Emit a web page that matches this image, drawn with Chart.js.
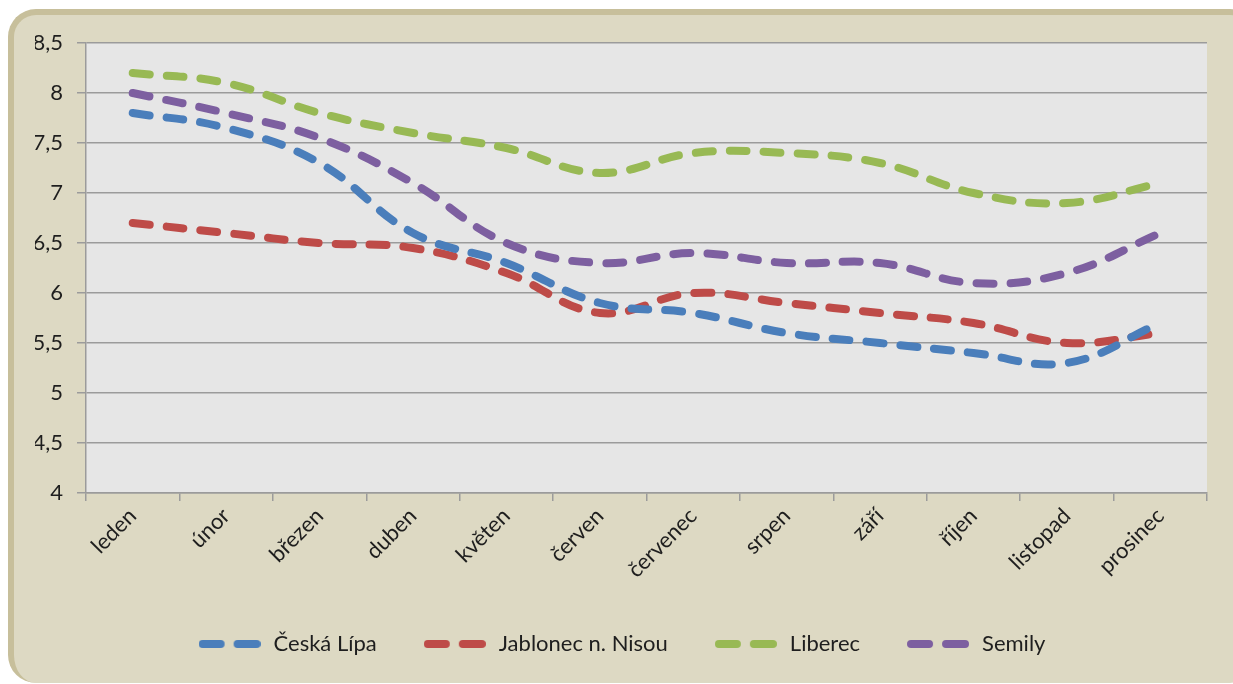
<!DOCTYPE html>
<html>
<head>
<meta charset="utf-8">
<script src="https://cdn.jsdelivr.net/npm/chart.js@4"></script>
<style>
  html, body { margin: 0; padding: 0; background: #ffffff; overflow: hidden; }
  #frame {
    position: absolute; left: 8px; top: 9px; width: 1250px; height: 674px;
    background: #ddd9c3; border-left: 6px solid #c7bf9b; border-top: 6px solid #c7bf9b;
    border-radius: 28px; box-sizing: border-box;
  }
  #wrap { position: absolute; left: 0; top: 0; width: 1233px; height: 684px; }
</style>
</head>
<body>
<div id="frame"></div>
<div id="wrap"><canvas id="chart"></canvas></div>
<script>
const months = ['leden', 'únor', 'březen', 'duben', 'květen', 'červen', 'červenec', 'srpen', 'září', 'říjen', 'listopad', 'prosinec'];
const ceskaLipa = [7.8, 7.65, 7.3, 6.6, 6.3, 5.9, 5.8, 5.6, 5.5, 5.4, 5.3, 5.7];
const jablonec = [6.7, 6.6, 6.5, 6.45, 6.2, 5.8, 6.0, 5.9, 5.8, 5.7, 5.5, 5.6];
const liberec = [8.2, 8.1, 7.8, 7.6, 7.45, 7.2, 7.4, 7.4, 7.3, 7.0, 6.9, 7.1];
const semily = [8.0, 7.8, 7.55, 7.1, 6.5, 6.3, 6.4, 6.3, 6.3, 6.1, 6.2, 6.6];
const seriesNames = ['Česká Lípa', 'Jablonec n. Nisou', 'Liberec', 'Semily'];
const seriesColors = ['#4a7ebb', '#be4b48', '#98b954', '#7d5fa0'];

const fontFamily = 'Lato, "Liberation Sans", sans-serif';
const textColor = '#1e1e1e';
const gridColor = '#9b9b9b';

// legend symbol: two short rounded dashes
function dashIcon(color) {
    const c = document.createElement('canvas');
    c.width = 62; c.height = 10;
    const g = c.getContext('2d');
    g.strokeStyle = color;
    g.lineWidth = 8;
    g.lineCap = 'round';
    g.beginPath();
    g.moveTo(4, 5); g.lineTo(22, 5);
    g.moveTo(39, 5); g.lineTo(58, 5);
    g.stroke();
    return c;
}

const plotBackground = {
    id: 'plotBackground',
    beforeDraw(chart) {
        const {ctx, chartArea: a} = chart;
        ctx.save();
        ctx.fillStyle = '#e6e6e6';
        ctx.fillRect(a.left, a.top, a.right - a.left, a.bottom - a.top);
        ctx.restore();
    }
};

function makeDataset(i, values) {
    return {
        label: seriesNames[i],
        data: values,
        borderColor: seriesColors[i],
        backgroundColor: seriesColors[i],
        borderWidth: 8,
        borderDash: [17, 17],
        borderCapStyle: 'round',
        borderJoinStyle: 'round',
        tension: 0.4,
        pointRadius: 0,
        pointHoverRadius: 0,
        fill: false
    };
}

new Chart(document.getElementById('chart').getContext('2d'), {
    type: 'line',
    data: {
        labels: months,
        datasets: [
            makeDataset(0, ceskaLipa),
            makeDataset(1, jablonec),
            makeDataset(2, liberec),
            makeDataset(3, semily)
        ]
    },
    plugins: [plotBackground],
    options: {
        responsive: true,
        maintainAspectRatio: false,
        animation: false,
        layout: { padding: { top: 43, right: 26, bottom: 19, left: 35 } },
        plugins: {
            tooltip: { enabled: false },
            legend: {
                position: 'bottom',
                labels: {
                    usePointStyle: true,
                    pointStyleWidth: 66,
                    padding: 45,
                    color: textColor,
                    font: { family: fontFamily, size: 22 },
                    generateLabels: function(chart) {
                        const items = Chart.defaults.plugins.legend.labels.generateLabels(chart);
                        items.forEach(function(item, i) {
                            item.pointStyle = dashIcon(seriesColors[i]);
                            item.lineDash = [];
                        });
                        return items;
                    }
                }
            }
        },
        scales: {
            x: {
                offset: true,
                afterFit: function(scale) { scale.height = 95; },
                grid: {
                    offset: true,
                    drawOnChartArea: false,
                    color: gridColor,
                    lineWidth: 1.5,
                    tickLength: 8
                },
                border: { color: gridColor, width: 1.5 },
                ticks: {
                    color: textColor,
                    font: { family: fontFamily, size: 22 },
                    minRotation: 45,
                    maxRotation: 45,
                    padding: 2
                }
            },
            y: {
                min: 4,
                max: 8.5,
                afterFit: function(scale) { scale.width = 51; },
                grid: {
                    color: gridColor,
                    lineWidth: 1.5,
                    tickLength: 9
                },
                border: { color: gridColor, width: 1.5 },
                ticks: {
                    stepSize: 0.5,
                    padding: 14,
                    color: textColor,
                    font: { family: fontFamily, size: 22 },
                    callback: function(value) {
                        return String(value).replace('.', ',');
                    }
                }
            }
        }
    }
});
</script>
</body>
</html>
